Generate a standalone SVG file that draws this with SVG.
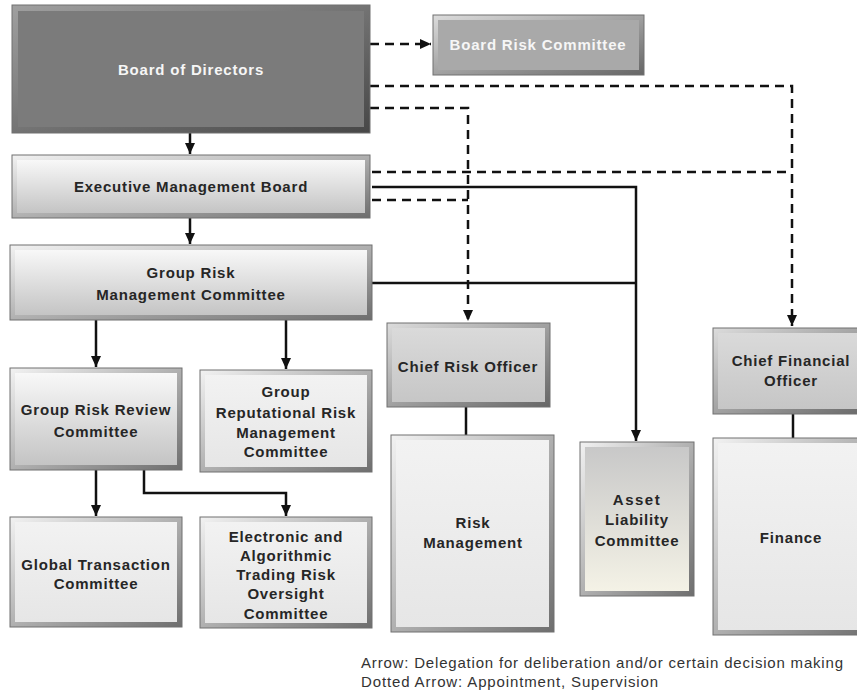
<svg xmlns="http://www.w3.org/2000/svg" width="857" height="695" viewBox="0 0 857 695">
<defs>
  <linearGradient id="frLight" x1="0" y1="0" x2="1" y2="1"><stop offset="0" stop-color="#f2f2f2"/><stop offset="1" stop-color="#6e6e6e"/></linearGradient>
  <linearGradient id="frDark" x1="0" y1="0" x2="1" y2="1"><stop offset="0" stop-color="#a0a0a0"/><stop offset="1" stop-color="#474747"/></linearGradient>
  <linearGradient id="frMid" x1="0" y1="0" x2="1" y2="1"><stop offset="0" stop-color="#dcdcdc"/><stop offset="1" stop-color="#666"/></linearGradient>
  <linearGradient id="faceLight" x1="0" y1="0" x2="0" y2="1"><stop offset="0" stop-color="#f8f8f8"/><stop offset="1" stop-color="#c4c4c4"/></linearGradient>
  <linearGradient id="facePale" x1="0" y1="0" x2="0" y2="1"><stop offset="0" stop-color="#f2f2f2"/><stop offset="1" stop-color="#e6e6e6"/></linearGradient>
  <linearGradient id="faceMid" x1="0" y1="0" x2="0" y2="1"><stop offset="0" stop-color="#dadada"/><stop offset="1" stop-color="#c6c6c6"/></linearGradient>
  <linearGradient id="faceALC" x1="0" y1="0" x2="0" y2="1"><stop offset="0" stop-color="#c8c8c8"/><stop offset="1" stop-color="#f4f2e6"/></linearGradient>
  <marker id="ah" markerUnits="userSpaceOnUse" markerWidth="12" markerHeight="10" refX="11" refY="5" orient="auto"><path d="M0,0 L11,5 L0,10 z" fill="#111"/></marker>
  <style>
    .fr { stroke:#707070; stroke-width:1; }
    .lt { fill:url(#frLight); }
    .dk { fill:url(#frDark); }
    .md { fill:url(#frMid); }
    .t { font-family:"Liberation Sans", Arial, sans-serif; font-weight:bold; font-size:15px; letter-spacing:0.8px; fill:#262626; text-anchor:middle; }
    .w { fill:#f6f6f6; }
    .c { fill:none; stroke:#111; stroke-width:2.5; }
    .d { stroke-dasharray:9 6; }
    .lg { font-family:"Liberation Sans", Arial, sans-serif; font-size:15px; fill:#333; }
  </style>
</defs>
<rect width="857" height="695" fill="#fff"/>

<g id="connectors">
  <path class="c d" d="M370,44 H431" marker-end="url(#ah)"/>
  <path class="c d" d="M370,86 H792 V326" marker-end="url(#ah)"/>
  <path class="c d" d="M372,172 H792"/>
  <path class="c d" d="M370,108 H468 V321" marker-end="url(#ah)"/>
  <path class="c d" d="M372,200 H468"/>
  <path class="c" d="M372,187 H636 V441" marker-end="url(#ah)"/>
  <path class="c" d="M372,283 H636"/>
  <path class="c" d="M190,133 V154" marker-end="url(#ah)"/>
  <path class="c" d="M190,218 V244" marker-end="url(#ah)"/>
  <path class="c" d="M96,320 V367" marker-end="url(#ah)"/>
  <path class="c" d="M286,320 V369" marker-end="url(#ah)"/>
  <path class="c" d="M96,470 V516" marker-end="url(#ah)"/>
  <path class="c" d="M144,470 V493 H286 V516" marker-end="url(#ah)"/>
  <path class="c" d="M466,407 V435"/>
  <path class="c" d="M793,414 V438"/>
</g>

<g id="board-of-directors">
  <rect class="fr dk" x="12" y="5" width="358" height="128"/>
  <rect x="18" y="11" width="346" height="116" fill="#7b7b7b"/>
  <text class="t w" x="191" y="75">Board of Directors</text>
</g>

<g id="board-risk-committee">
  <rect class="fr md" x="433" y="15" width="211" height="60"/>
  <rect x="438" y="20" width="201" height="50" fill="#a9a9a9"/>
  <text class="t w" x="538" y="50">Board Risk Committee</text>
</g>

<g id="executive-management-board">
  <rect class="fr lt" x="12" y="155" width="358" height="63"/>
  <rect x="17" y="160" width="348" height="53" fill="url(#faceLight)"/>
  <text class="t" x="191" y="192">Executive Management Board</text>
</g>

<g id="group-risk-management-committee">
  <rect class="fr lt" x="10" y="245" width="362" height="75"/>
  <rect x="15" y="250" width="352" height="65" fill="url(#faceLight)"/>
  <text class="t" x="191" y="278">Group Risk</text>
  <text class="t" x="191" y="300">Management Committee</text>
</g>

<g id="group-risk-review-committee">
  <rect class="fr lt" x="10" y="368" width="172" height="102"/>
  <rect x="15" y="373" width="162" height="92" fill="url(#faceLight)"/>
  <text class="t" x="96" y="415">Group Risk Review</text>
  <text class="t" x="96" y="437">Committee</text>
</g>

<g id="group-reputational-risk-management-committee">
  <rect class="fr lt" x="200" y="370" width="172" height="102"/>
  <rect x="205" y="375" width="162" height="92" fill="url(#facePale)"/>
  <text class="t" x="286" y="397">Group</text>
  <text class="t" x="286" y="418">Reputational Risk</text>
  <text class="t" x="286" y="438">Management</text>
  <text class="t" x="286" y="457">Committee</text>
</g>

<g id="global-transaction-committee">
  <rect class="fr lt" x="10" y="517" width="172" height="110"/>
  <rect x="15" y="522" width="162" height="100" fill="url(#facePale)"/>
  <text class="t" x="96" y="570">Global Transaction</text>
  <text class="t" x="96" y="589">Committee</text>
</g>

<g id="electronic-algorithmic-trading-committee">
  <rect class="fr lt" x="200" y="517" width="172" height="111"/>
  <rect x="205" y="522" width="162" height="101" fill="url(#facePale)"/>
  <text class="t" x="286" y="542">Electronic and</text>
  <text class="t" x="286" y="561">Algorithmic</text>
  <text class="t" x="286" y="580">Trading Risk</text>
  <text class="t" x="286" y="599">Oversight</text>
  <text class="t" x="286" y="619">Committee</text>
</g>

<g id="chief-risk-officer">
  <rect class="fr md" x="387" y="323" width="163" height="84"/>
  <rect x="392" y="328" width="153" height="74" fill="url(#faceMid)"/>
  <text class="t" x="468" y="372">Chief Risk Officer</text>
</g>

<g id="risk-management">
  <rect class="fr lt" x="391" y="435" width="163" height="197"/>
  <rect x="396" y="440" width="153" height="187" fill="url(#facePale)"/>
  <text class="t" x="473" y="528">Risk</text>
  <text class="t" x="473" y="548">Management</text>
</g>

<g id="asset-liability-committee">
  <rect class="fr lt" x="580" y="442" width="114" height="154"/>
  <rect x="585" y="447" width="104" height="144" fill="url(#faceALC)"/>
  <text class="t" x="637" y="505" style="letter-spacing:1.5px">Asset</text>
  <text class="t" x="637" y="525">Liability</text>
  <text class="t" x="637" y="546">Committee</text>
</g>

<g id="chief-financial-officer">
  <rect class="fr md" x="713" y="328" width="160" height="86"/>
  <rect x="718" y="333" width="150" height="76" fill="url(#faceMid)"/>
  <text class="t" x="791" y="366">Chief Financial</text>
  <text class="t" x="791" y="386">Officer</text>
</g>

<g id="finance">
  <rect class="fr lt" x="713" y="438" width="160" height="197"/>
  <rect x="718" y="443" width="150" height="187" fill="url(#facePale)"/>
  <text class="t" x="791" y="543">Finance</text>
</g>

<g id="legend">
  <text class="lg" x="361" y="668" textLength="482" lengthAdjust="spacing">Arrow: Delegation for deliberation and/or certain decision making</text>
  <text class="lg" x="361" y="687" textLength="297" lengthAdjust="spacing">Dotted Arrow: Appointment, Supervision</text>
</g>
</svg>
